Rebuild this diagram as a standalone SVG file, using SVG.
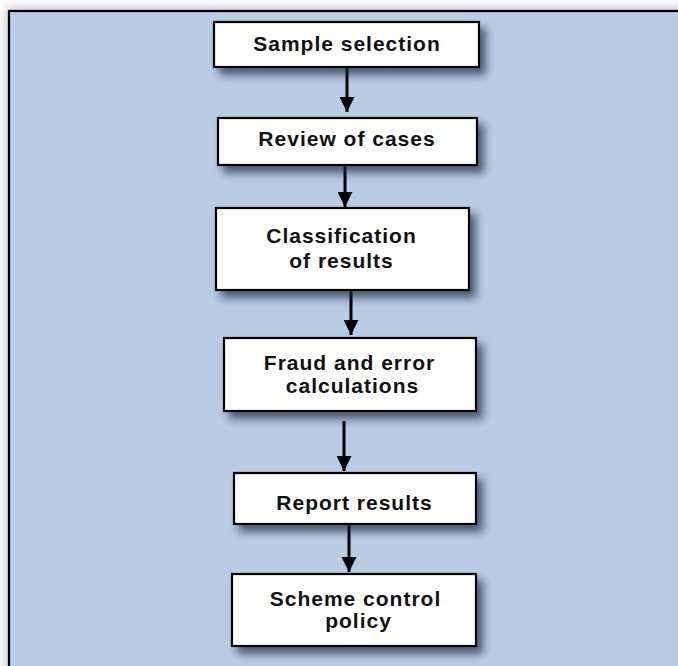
<svg xmlns="http://www.w3.org/2000/svg" width="678" height="666" viewBox="0 0 678 666">
<defs>
<filter id="bshadow" x="-10%" y="-20%" width="130%" height="170%">
<feDropShadow dx="6" dy="7" stdDeviation="4" flood-color="#1c2b40" flood-opacity="0.7"/>
</filter>
<filter id="fshadow" x="-5%" y="-5%" width="110%" height="110%">
<feGaussianBlur stdDeviation="5"/>
</filter>
<marker id="ah" viewBox="0 0 10 10" refX="10" refY="5" markerUnits="userSpaceOnUse" markerWidth="15" markerHeight="15" orient="auto">
<path d="M0,0 L10,5 L0,10 Z" fill="#000"/>
</marker>
<style>
.box{fill:#fff;stroke:#000;stroke-width:2.2;filter:url(#bshadow)}
.t{font-family:"Liberation Sans",Arial,sans-serif;font-weight:bold;font-size:21px;letter-spacing:1px;fill:#111;text-anchor:middle}
.c{stroke:#000;stroke-width:3;fill:none;marker-end:url(#ah)}
</style>
</defs>
<rect x="0" y="0" width="678" height="666" fill="#ffffff"/>
<rect x="6" y="8" width="700" height="700" fill="#c0c0c0" filter="url(#fshadow)"/>
<rect x="9" y="11" width="700" height="700" fill="#b8cce4" stroke="#000" stroke-width="2.2"/>
<g id="connectors">
<line class="c" x1="347" y1="67" x2="347" y2="112"/>
<line class="c" x1="345" y1="165" x2="345" y2="207"/>
<line class="c" x1="351" y1="291" x2="351" y2="335"/>
<line class="c" x1="344" y1="421" x2="344" y2="471"/>
<line class="c" x1="349" y1="524" x2="349" y2="572"/>
</g>
<g id="n1">
<rect class="box" x="214" y="22" width="265" height="45"/>
<text class="t" x="347" y="51">Sample selection</text>
</g>
<g id="n2">
<rect class="box" x="218" y="118" width="259" height="47"/>
<text class="t" x="347" y="146">Review of cases</text>
</g>
<g id="n3">
<rect class="box" x="216" y="208" width="253" height="82"/>
<text class="t" x="341.5" y="243">Classification</text>
<text class="t" x="341.5" y="268">of results</text>
</g>
<g id="n4">
<rect class="box" x="224" y="338" width="252" height="73"/>
<text class="t" x="349.5" y="370">Fraud and error</text>
<text class="t" x="352.5" y="393">calculations</text>
</g>
<g id="n5">
<rect class="box" x="234" y="473" width="242" height="51"/>
<text class="t" x="354.5" y="510">Report results</text>
</g>
<g id="n6">
<rect class="box" x="232" y="574" width="244" height="72"/>
<text class="t" x="355.5" y="606">Scheme control</text>
<text class="t" x="358.5" y="628">policy</text>
</g>
</svg>
